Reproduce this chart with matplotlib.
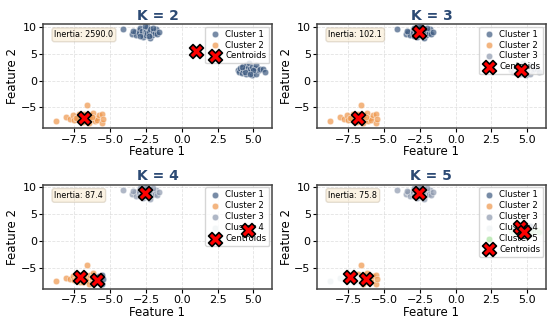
import numpy as np
import matplotlib
matplotlib.use("Agg")
import matplotlib.pyplot as plt

# points, three blobs: top, right, bottom-left
top_x = [-4.1, -3.5, -3.3, -3.2, -3.0, -3.0, -2.9, -2.8, -2.8, -2.7, -2.6, -2.6, -2.5, -2.5, -2.4,
         -2.4, -2.3, -2.2, -2.2, -2.1, -2.0, -1.9, -1.8, -1.7, -1.6, -3.4, -2.9, -2.6, -2.3, -2.0]
top_y = [9.5, 8.7, 9.1, 8.4, 9.4, 8.9, 9.8, 8.6, 9.2, 8.1, 9.6, 8.9, 9.3, 8.4, 10.0,
         8.8, 9.1, 7.9, 9.6, 8.5, 9.2, 8.8, 9.5, 8.6, 9.1, 9.3, 8.3, 10.1, 8.3, 9.8]
right_x = [3.9, 4.0, 4.1, 4.2, 4.3, 4.3, 4.4, 4.5, 4.5, 4.6, 4.6, 4.7, 4.7, 4.8,
           4.9, 4.9, 5.0, 5.1, 5.2, 5.2, 5.4, 5.5, 5.7, 5.8, 4.4, 5.0, 4.2, 4.8]
right_y = [2.0, 1.6, 2.3, 1.4, 2.7, 1.9, 2.2, 1.2, 2.9, 1.8, 2.4, 1.5, 3.2, 2.1,
           1.0, 2.6, 1.7, 2.3, 1.3, 2.8, 1.9, 2.2, 2.1, 1.6, 1.6, 2.0, 2.5, 1.2]
bl_x = [-8.8, -8.1, -7.8, -7.6, -7.5, -7.3, -7.2, -7.1, -7.0, -6.9, -6.8, -6.7, -6.6, -6.6,
        -6.5, -6.4, -6.3, -6.2, -6.1, -6.0, -5.9, -5.8, -5.6, -5.6, -5.5, -7.4, -6.9, -6.3]
bl_y = [-7.5, -6.8, -7.1, -6.5, -7.3, -6.9, -6.3, -7.6, -6.6, -7.1, -6.2, -7.4, -4.5, -6.8,
        -7.9, -6.4, -7.2, -6.0, -7.6, -6.9, -7.4, -6.5, -6.3, -7.9, -7.1, -7.0, -7.7, -6.7]

# cluster labels per k (order: top, right, bottom-left)
labels = {
    2: [0] * 30 + [0] * 28 + [1] * 28,
    3: [0] * 30 + [2] * 28 + [1] * 28,
    4: [2] * 30 + [3] * 28 +
       [1, 1, 1, 1, 1, 1, 1, 1, 1, 1, 1, 1, 1, 1, 1, 1, 1, 1, 0, 0, 0, 0, 0, 0, 0, 1, 1, 1],
    5: [2] * 30 +
       [4, 4, 0, 4, 0, 4, 0, 4, 0, 4, 0, 4, 0, 4, 4, 0, 4, 0, 4, 0, 4, 0, 4, 4, 4, 4, 0, 4] +
       [3, 3, 3, 3, 3, 3, 3, 3, 3, 3, 1, 1, 1, 1, 1, 1, 1, 1, 1, 1, 1, 1, 1, 1, 1, 3, 3, 1],
}
centroids = {
    2: [(1.0, 5.5), (-6.8, -6.9)],
    3: [(-2.6, 9.0), (-6.8, -6.9), (4.6, 2.0)],
    4: [(-5.9, -7.3), (-7.1, -6.7), (-2.6, 9.0), (4.6, 2.1)],
    5: [(4.5, 2.6), (-6.3, -7.0), (-2.6, 9.0), (-7.4, -6.7), (4.8, 1.6)],
}
inertia = {2: 2590.0, 3: 102.1, 4: 87.4, 5: 75.8}

colors = ["#3d5a80", "#ee964b", "#8d99ae", "#eef3f5", "#a8e3a0"]

X = np.array(top_x + right_x + bl_x)
Y = np.array(top_y + right_y + bl_y)

fig, axes = plt.subplots(2, 2, figsize=(5.48, 3.21), dpi=100)
fig.subplots_adjust(left=0.0785, right=0.996, bottom=0.1, top=0.925, wspace=0.197, hspace=0.54)

for ax, k in zip(axes.ravel(), [2, 3, 4, 5]):
    lab = np.array(labels[k])
    for c in range(k):
        m = lab == c
        ax.scatter(X[m], Y[m], s=22, c=colors[c], alpha=0.7, edgecolors="white",
                   linewidths=0.4, label=f"Cluster {c + 1}", zorder=2)
    cx = [p[0] for p in centroids[k]]
    cy = [p[1] for p in centroids[k]]
    ax.scatter(cx, cy, s=100, c="red", marker="X", edgecolors="black", linewidths=1.2,
               label="Centroids", zorder=10)
    ax.set_xlim(-9.7, 6.3)
    ax.set_ylim(-8.9, 10.5)
    ax.set_xticks([-7.5, -5.0, -2.5, 0.0, 2.5, 5.0])
    ax.set_yticks([-5, 0, 5, 10])
    ax.set_title(f"K = {k}", fontsize=10, fontweight="bold", color="#2c4a74", pad=3)
    ax.set_xlabel("Feature 1", fontsize=8.5, labelpad=0.5)
    ax.set_ylabel("Feature 2", fontsize=8.5, labelpad=1)
    ax.tick_params(labelsize=8, length=3, pad=1.5)
    ax.grid(True, linestyle="--", alpha=0.35, linewidth=0.6)
    for sp in ax.spines.values():
        sp.set_color("#444444")
        sp.set_linewidth(1.1)
    ax.text(0.05, 0.94, f"Inertia: {inertia[k]:.1f}", transform=ax.transAxes, fontsize=5.8,
            va="top", ha="left",
            bbox=dict(boxstyle="round,pad=0.3", facecolor="wheat", edgecolor="#b8a890", alpha=0.35))
    leg = ax.legend(loc="upper right", fontsize=6.2, framealpha=0.8, borderpad=0.35,
                    labelspacing=0.22, handletextpad=0.4, handlelength=1.6, borderaxespad=0.3)
    leg.set_zorder(5)

fig.savefig("out.png", dpi=100)
